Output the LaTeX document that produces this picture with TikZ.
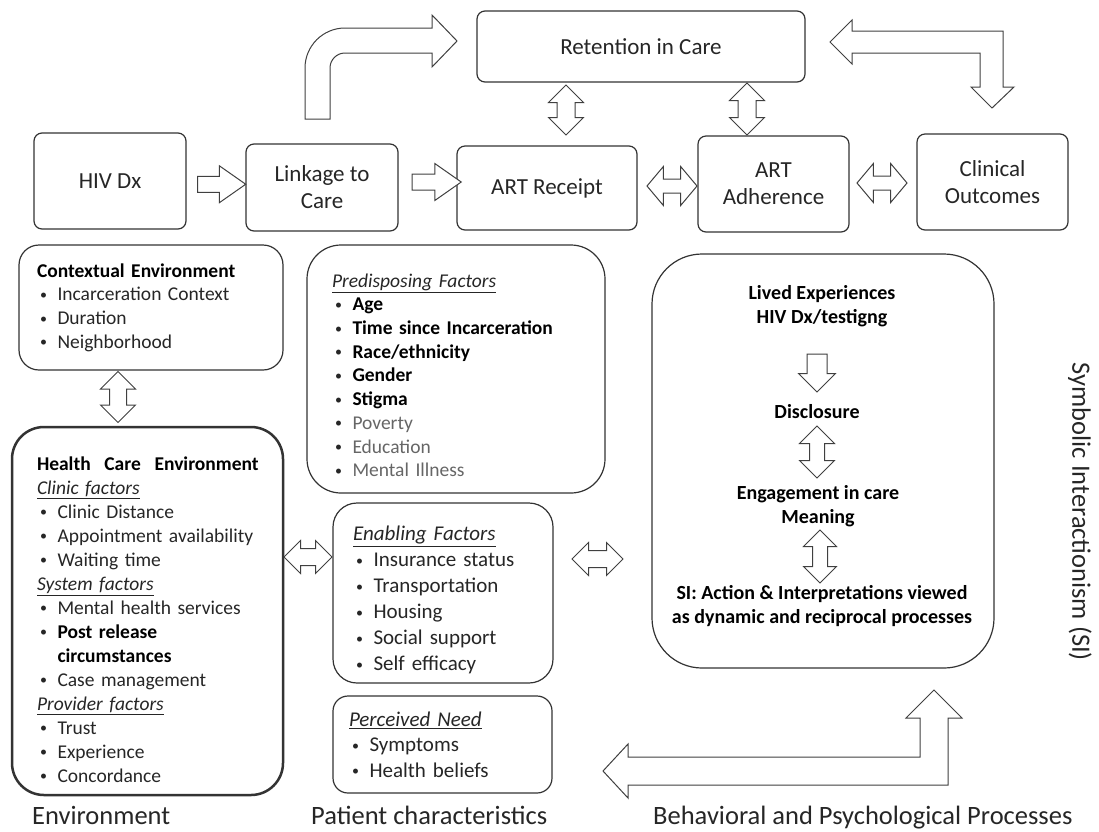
\documentclass[tikz,border=0pt]{standalone}
\usepackage{fontspec}
\setmainfont{Carlito}
\usetikzlibrary{shapes.arrows,calc}

\tikzset{
  box/.style={draw=black!80, line width=1.2pt, rounded corners=8pt, fill=white, align=center, inner sep=0pt, text=black!85, font=\fontsize{23}{27}\selectfont},
  listbox/.style={draw=black!80, line width=1.2pt, fill=white, align=left, inner sep=0pt, text=black!85, font=\fontsize{19.5}{23.7}\selectfont},
  sitext/.style={align=center, inner sep=0pt, font=\bfseries\fontsize{20}{24}\selectfont},
  areatext/.style={inner sep=0pt, text=black!85, font=\fontsize{26.5}{30}\selectfont},
  fatline/.style={draw=black!75, fill=white, line width=1pt, line join=miter},
  % shaft = 2 x inner ysep, head = shaft + 2 x extend
  sarrow/.style={single arrow, fatline, inner xsep=0pt, inner ysep=7.5pt, single arrow head extend=10.5pt, single arrow tip angle=70},
  darrow/.style={double arrow, fatline, inner xsep=0pt, inner ysep=8.5pt, double arrow head extend=8.5pt, double arrow tip angle=90}
}
\newcommand\itm[1]{\mbox{\makebox[20.5pt][l]{\hspace{3pt}\raisebox{1.5pt}{\fontsize{14}{14}\selectfont\textbullet}}#1}}
\newcommand\subhd[1]{\underline{\textit{#1}}}

\begin{document}
\begin{tikzpicture}[x=1pt,y=-1pt]
\useasboundingbox (0,0) rectangle (1099,831);

% care cascade
\node[box, minimum width=152pt, minimum height=96pt] (hiv) at (110,181) {HIV Dx};
\node[box, minimum width=152pt, minimum height=87pt] (link) at (322,187.5) {Linkage to\\Care};
\node[box, minimum width=180pt, minimum height=84pt] (art) at (547,188) {ART Receipt};
\node[box, minimum width=151pt, minimum height=96pt] (adh) at (773.5,184) {ART\\Adherence};
\node[box, minimum width=151pt, minimum height=96pt] (clin) at (992.5,182) {Clinical\\Outcomes};
\node[box, minimum width=328pt, minimum height=71pt] (ret) at (641,46.5) {Retention in Care};

\node[sarrow, minimum height=48pt] (hiv-link) at ($(hiv.east)!.5!(link.west)$) {};
\node[sarrow, minimum height=49pt] (link-art) at (431,182) {};
\node[darrow, minimum height=50pt, inner ysep=6.5pt, double arrow head extend=12.5pt, double arrow tip angle=100] (art-adh) at (672,186) {};
\node[darrow, minimum height=50pt, inner ysep=6.5pt, double arrow head extend=12.5pt, double arrow tip angle=100] (adh-clin) at (882,183) {};
\node[darrow, minimum height=50pt, rotate=90] (ret-art) at (566,110) {};
\node[darrow, minimum height=52pt, rotate=90] (ret-adh) at (747,109) {};

% bent arrows up to retention
\draw[fatline] (305,119) -- (305,68) arc[start angle=180, end angle=270, radius=40]
  -- (432,28) -- (432,15) -- (457,41) -- (432,67) -- (432,53) -- (345,53)
  arc[start angle=270, end angle=180, radius=15] -- (330,119) -- cycle;
\draw[fatline] (830,42) -- (852,20) -- (852,31) -- (1003,31) -- (1003,87) -- (1014,87)
  -- (992,108) -- (971,87) -- (980,87) -- (980,53) -- (852,53) -- (852,64) -- cycle;

% environment
\node[listbox, rounded corners=20pt, minimum width=264pt, minimum height=125pt, text width=228pt] (ctx) at (151,307.5) {%
\mbox{\textbf{\color{black}Contextual Environment}}\\
\itm{Incarceration Context}\\
\itm{Duration}\\
\itm{Neighborhood}};
\node[listbox, line width=2.5pt, rounded corners=32pt, minimum width=271pt, minimum height=368pt, text width=221pt, font=\fontsize{19.5}{24}\selectfont] (hce) at (147.5,611) {%
\rule{0pt}{31pt}\mbox{\textbf{\color{black}Health\hspace{.7em}Care\hspace{.7em}Environment}}\\
\subhd{Clinic factors}\\
\itm{Clinic Distance}\\
\itm{Appointment availability}\\
\itm{Waiting time}\\
\subhd{System factors}\\
\itm{Mental health services}\\
\itm{\textbf{\color{black}Post release}}\\
\hspace*{20.5pt}\textbf{\color{black}circumstances}\\
\itm{Case management}\\
\subhd{Provider factors}\\
\itm{Trust}\\
\itm{Experience}\\
\itm{Concordance}};
\node[darrow, minimum height=51pt, rotate=90, inner ysep=8pt, double arrow head extend=9pt] (ctx-hce) at (118,397) {};

% patient characteristics
\node[listbox, rounded corners=34pt, minimum width=298pt, minimum height=248pt, text width=248pt] (pre) at (456,369) {%
\rule{0pt}{26pt}\subhd{Predisposing Factors}\\
\itm{\textbf{\color{black}Age}}\\
\itm{\textbf{\color{black}Time since Incarceration}}\\
\itm{\textbf{\color{black}Race/ethnicity}}\\
\itm{\textbf{\color{black}Gender}}\\
\itm{\textbf{\color{black}Stigma}}\\
\itm{\color{black!60}Poverty}\\
\itm{\color{black!60}Education}\\
\itm{\color{black!60}Mental Illness}};
\node[listbox, rounded corners=24pt, minimum width=220pt, minimum height=180pt, text width=180pt, font=\fontsize{21}{26}\selectfont] (ena) at (443,593) {%
\rule{0pt}{29pt}\subhd{Enabling Factors}\\
\itm{Insurance status}\\
\itm{Transportation}\\
\itm{Housing}\\
\itm{Social support}\\
\itm{Self efficacy}};
\node[listbox, rounded corners=15pt, minimum width=219pt, minimum height=97pt, text width=187pt, font=\fontsize{21}{25.5}\selectfont] (pn) at (442.5,744.5) {%
\subhd{Perceived Need}\\
\itm{Symptoms}\\
\itm{Health beliefs}};
\node[darrow, minimum height=48pt, inner ysep=8pt, double arrow head extend=8pt] (hce-ena) at (308,557) {};
\node[darrow, minimum height=51pt, inner ysep=8pt, double arrow head extend=8pt] (ena-si) at (597.5,559) {};

% symbolic interactionism
\node[listbox, rounded corners=50pt, minimum width=342pt, minimum height=414pt] (si) at (823,461) {};
\node[sitext] (lived) at (822,306) {Lived Experiences\\HIV Dx/testigng};
\node[sitext] (discl) at (817,412) {Disclosure};
\node[sitext] (engage) at (818,506) {Engagement in care\\Meaning};
\node[sitext] (action) at (822,606) {SI: Action \& Interpretations viewed\\as dynamic and reciprocal processes};
\node[sarrow, minimum height=38pt, rotate=-90, inner ysep=9.5pt, single arrow tip angle=90, single arrow head extend=8.5pt] (lived-discl) at (817,368) {};
\node[darrow, minimum height=52pt, rotate=90, inner ysep=7pt, double arrow head extend=10pt] (discl-engage) at (817,452) {};
\node[darrow, minimum height=53pt, rotate=90, inner ysep=7pt, double arrow head extend=9pt] (engage-action) at (820,556.5) {};

% feedback to patient characteristics
\draw[fatline] (603,771) -- (628,744) -- (628,757) -- (920,757) -- (920,718) -- (906,718)
  -- (934,690) -- (962,718) -- (948,718) -- (948,785) -- (628,785) -- (628,798) -- cycle;

% area names
\node[areatext, anchor=base west] (env-lab) at (32,824) {Environment};
\node[areatext, anchor=base west] (pat-lab) at (311,824) {Patient characteristics};
\node[areatext, anchor=base west] (beh-lab) at (653,824) {Behavioral and Psychological Processes};
\node[areatext, rotate=-90] (si-lab) at (1080,512) {Symbolic Interactionism (SI)};
\end{tikzpicture}
\end{document}
